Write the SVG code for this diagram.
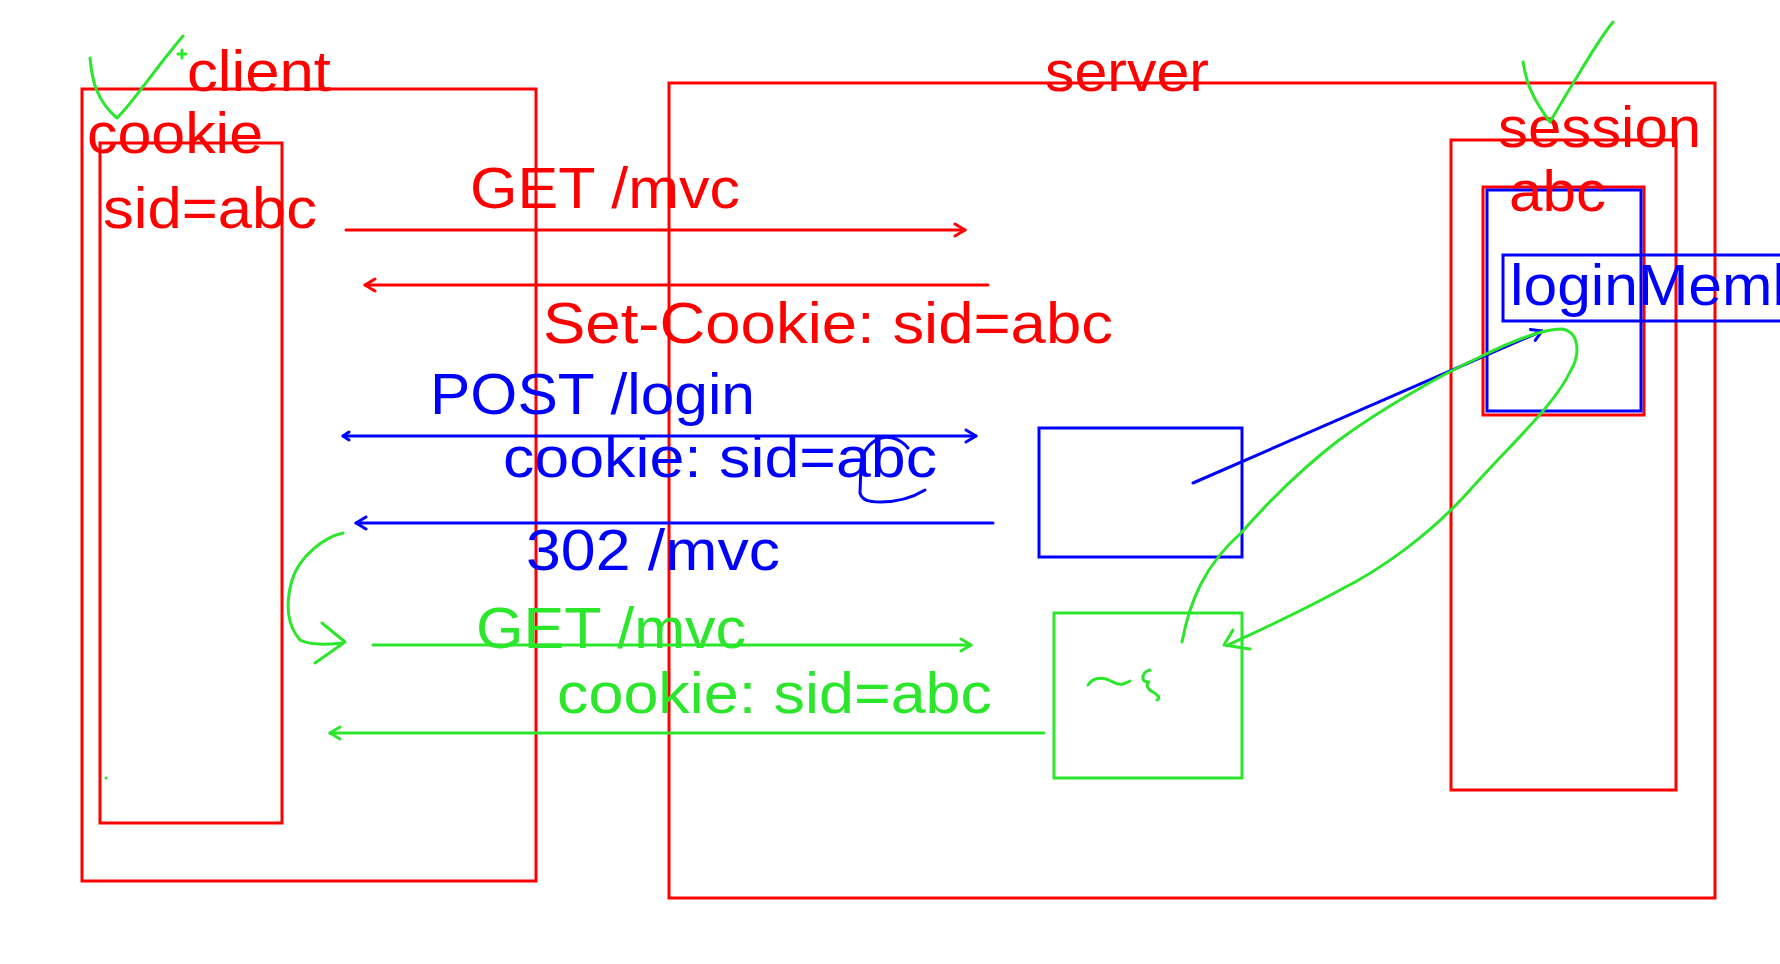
<svg xmlns="http://www.w3.org/2000/svg" width="1780" height="964" viewBox="0 0 1780 964">
<style>
  .bg{fill:#ffffff}
  .box{fill:none;stroke-width:3}
  .r{stroke:#ff0000}
  .b{stroke:#0000ff}
  .g{stroke:#2be62b}
  .t{font-family:"Liberation Sans",Arial,sans-serif;font-size:58px}
  .tr{fill:#ff0000}
  .tb{fill:#0000ff}
  .tg{fill:#2be62b}
  .ln{fill:none;stroke-width:3;stroke-linecap:round}
  .ink{fill:none;stroke-width:3;stroke-linecap:round;stroke-linejoin:round}
</style>
<defs>
  <marker id="ahR" markerUnits="userSpaceOnUse" markerWidth="16" markerHeight="16" refX="13" refY="8" orient="auto-start-reverse">
    <path d="M3,2 L13,8 L3,14" fill="none" stroke="#ff0000" stroke-width="3" stroke-linecap="round" stroke-linejoin="round"/>
  </marker>
  <marker id="ahB" markerUnits="userSpaceOnUse" markerWidth="16" markerHeight="16" refX="13" refY="8" orient="auto-start-reverse">
    <path d="M3,2 L13,8 L3,14" fill="none" stroke="#0000ff" stroke-width="3" stroke-linecap="round" stroke-linejoin="round"/>
  </marker>
  <marker id="ahBs" markerUnits="userSpaceOnUse" markerWidth="12" markerHeight="12" refX="9" refY="6" orient="auto-start-reverse">
    <path d="M3,2 L9,6 L3,10" fill="none" stroke="#0000ff" stroke-width="3" stroke-linecap="round" stroke-linejoin="round"/>
  </marker>
  <marker id="ahG" markerUnits="userSpaceOnUse" markerWidth="16" markerHeight="16" refX="13" refY="8" orient="auto-start-reverse">
    <path d="M3,2 L13,8 L3,14" fill="none" stroke="#2be62b" stroke-width="3" stroke-linecap="round" stroke-linejoin="round"/>
  </marker>
</defs>
<rect class="bg" x="0" y="0" width="1780" height="964"/>

<g id="client">
  <rect class="box r" x="82" y="89" width="454" height="792"/>
  <text class="t tr" x="187" y="91" textLength="144" lengthAdjust="spacingAndGlyphs">client</text>
</g>
<g id="cookie-store">
  <rect class="box r" x="100" y="143" width="182" height="680"/>
  <text class="t tr" x="87" y="153" textLength="176" lengthAdjust="spacingAndGlyphs">cookie</text>
  <text class="t tr" x="103" y="228" textLength="214" lengthAdjust="spacingAndGlyphs">sid=abc</text>
</g>
<g id="server">
  <rect class="box r" x="669" y="83" width="1046" height="815"/>
  <text class="t tr" x="1045" y="91" textLength="164" lengthAdjust="spacingAndGlyphs">server</text>
</g>
<g id="session">
  <rect class="box r" x="1451" y="140" width="225" height="650"/>
  <text class="t tr" x="1498" y="147" textLength="203" lengthAdjust="spacingAndGlyphs">session</text>
</g>
<g id="session-abc">
  <rect class="box r" x="1483" y="187" width="161" height="228"/>
  <rect class="box b" x="1487" y="190" width="154" height="221"/>
  <text class="t tr" x="1509" y="211" textLength="97" lengthAdjust="spacingAndGlyphs">abc</text>
</g>
<g id="loginMember">
  <rect class="box b" x="1503" y="255" width="300" height="66"/>
  <text class="t tb" x="1510" y="305" textLength="350" lengthAdjust="spacingAndGlyphs">loginMember</text>
</g>
<g id="login-handler">
  <rect class="box b" x="1039" y="428" width="203" height="129"/>
</g>
<g id="mvc-handler">
  <rect class="box g" x="1054" y="613" width="188" height="165"/>
  <path class="ink g" d="M1088,685 C1092,679 1098,677 1106,679 C1113,681 1117,686 1123,684 C1126,683 1128,682 1130,681"/>
  <path class="ink g" d="M1150,670 C1145,671 1142,675 1143,679 C1144,682 1148,682 1149,682 C1145,684 1148,690 1153,692 C1158,695 1161,698 1157,700"/>
</g>

<g id="connectors">
  <line class="ln r" x1="346" y1="230" x2="965" y2="230" marker-end="url(#ahR)"/>
  <line class="ln r" x1="988" y1="285" x2="365" y2="285" marker-end="url(#ahR)"/>
  <line class="ln b" x1="343" y1="436" x2="976" y2="436" marker-end="url(#ahB)" marker-start="url(#ahBs)"/>
  <line class="ln b" x1="993" y1="523" x2="356" y2="523" marker-end="url(#ahB)"/>
  <line class="ln g" x1="373" y1="645" x2="971" y2="645" marker-end="url(#ahG)"/>
  <line class="ln g" x1="1044" y1="733" x2="330" y2="733" marker-end="url(#ahG)"/>
  <line class="ln b" x1="1193" y1="483" x2="1542" y2="331" marker-end="url(#ahB)"/>
  <path class="ink g" d="M343,533 C325,537 300,555 292,580 C285,605 287,625 300,640 C312,646 330,644 343,643"/>
  <path class="ink g" d="M322,623 L345,642 L315,663"/>
  <path class="ink g" d="M1182,642 C1190,600 1205,565 1241,533 C1270,500 1300,470 1339,440 C1380,410 1440,375 1480,357 C1510,342 1540,329 1562,329 C1580,332 1580,355 1571,370 C1555,405 1510,445 1470,490 C1430,535 1380,570 1340,590 C1300,612 1260,630 1228,645"/>
  <path class="ink g" d="M1233,630 L1224,645 L1250,649"/>
  <path class="ink b" d="M908,448 C900,438 886,434 876,440 C866,446 862,455 861,465 L860,493 C862,500 868,502 880,502 C895,502 912,498 925,490" stroke-width="2.5"/>
</g>

<g id="labels">
  <text class="t tr" x="470" y="208" textLength="270" lengthAdjust="spacingAndGlyphs">GET /mvc</text>
  <text class="t tr" x="543" y="343" textLength="570" lengthAdjust="spacingAndGlyphs">Set-Cookie: sid=abc</text>
  <text class="t tb" x="430" y="414" textLength="325" lengthAdjust="spacingAndGlyphs">POST /login</text>
  <text class="t tb" x="503" y="477" textLength="434" lengthAdjust="spacingAndGlyphs">cookie: sid=abc</text>
  <text class="t tb" x="526" y="570" textLength="254" lengthAdjust="spacingAndGlyphs">302 /mvc</text>
  <text class="t tg" x="476" y="648" textLength="270" lengthAdjust="spacingAndGlyphs">GET /mvc</text>
  <text class="t tg" x="557" y="713" textLength="435" lengthAdjust="spacingAndGlyphs">cookie: sid=abc</text>
</g>

<g id="annotations">
  <path class="ink g" d="M90,58 C92,80 96,100 117,118 C135,100 150,75 183,36"/>
  <path class="ink g" d="M178,54 L186,54 M182,50 L182,58" stroke-width="1.5"/>
  <circle cx="106" cy="778" r="1.5" fill="#2be62b"/>
  <path class="ink g" d="M1523,62 C1526,80 1530,95 1550,122 C1560,105 1570,88 1577,77 C1590,55 1600,38 1613,22"/>
</g>
</svg>
